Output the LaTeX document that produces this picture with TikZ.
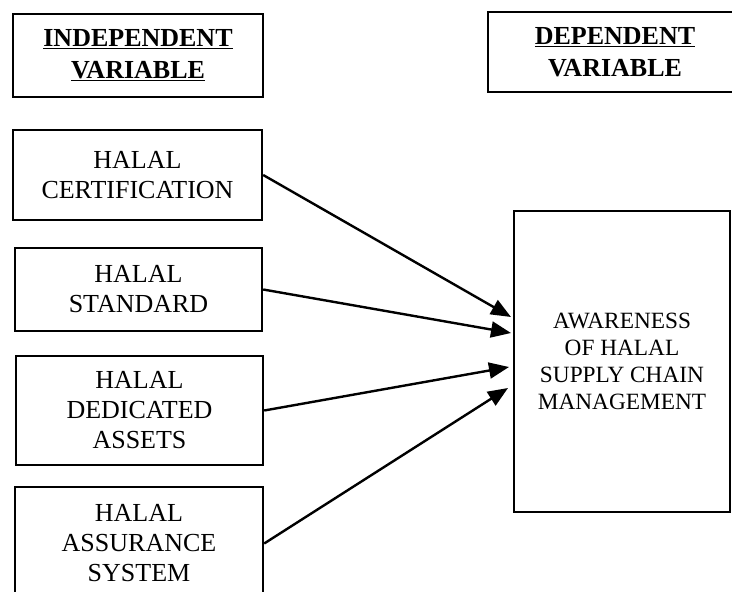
\documentclass[tikz,border=0pt]{standalone}
\usepackage{fontspec}
\setmainfont{Liberation Serif}
\usetikzlibrary{arrows.meta}

\begin{document}
\begin{tikzpicture}[x=1pt,y=-1pt,
    varbox/.style={draw,line width=2.4pt,inner sep=0pt,align=center,
        font=\fontsize{26}{30}\selectfont},
    headbox/.style={varbox,font=\fontsize{26}{32}\selectfont\bfseries},
    link/.style={line width=2.4pt,-{Triangle[length=20pt,width=16pt]}}]
                \clip (0,0) rectangle (732,592);
                \node[headbox,minimum width=250pt,minimum height=83pt] (indep) at (138,55.5) {\underline{INDEPENDENT}\\\underline{VARIABLE}};
                \node[headbox,minimum width=254pt,minimum height=80pt] (dep) at (615,52) {\underline{DEPENDENT}\\VARIABLE};
                \node[varbox,minimum width=249pt,minimum height=90pt] (cert) at (137.5,175) {HALAL\\CERTIFICATION};
                \node[varbox,minimum width=247pt,minimum height=83pt] (std) at (138.5,289.5) {HALAL\\STANDARD};
                \node[varbox,minimum width=247pt,minimum height=109pt] (ded) at (139.5,410.5) {HALAL\\DEDICATED\\ASSETS};
                \node[varbox,minimum width=248pt,minimum height=113pt] (assur) at (139,543.5) {HALAL\\ASSURANCE\\SYSTEM};
                \node[varbox,minimum width=216pt,minimum height=301pt,
                    font=\fontsize{23.3}{27}\selectfont] (aware) at (622,361.5) {AWARENESS\\OF HALAL\\SUPPLY CHAIN\\MANAGEMENT};
                \coordinate (in1) at (511,317);
                \coordinate (in2) at (511,333);
                \coordinate (in3) at (509,367);
                \coordinate (in4) at (508,388);
                \draw[link] (cert.east) -- (in1);
                \draw[link] (std.east) -- (in2);
                \draw[link] (ded.east) -- (in3);
                \draw[link] (assur.east) -- (in4);
\end{tikzpicture}
\end{document}
